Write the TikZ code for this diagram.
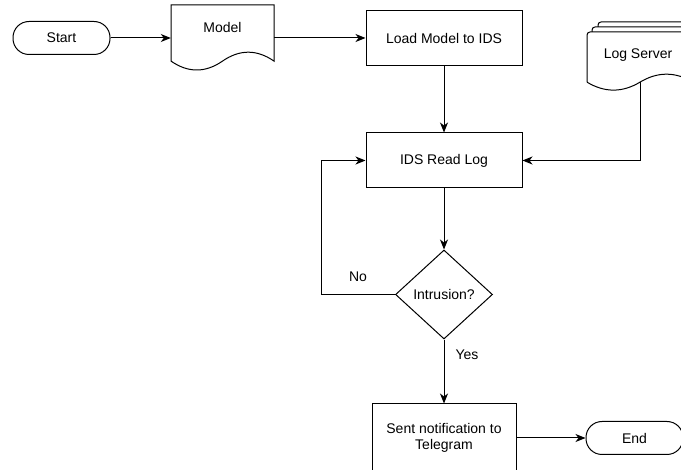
\documentclass[tikz,border=0pt]{standalone}
\usepackage{fontspec}
\setmainfont{Liberation Sans}
\usetikzlibrary{shapes.geometric,arrows.meta,calc}
\begin{document}
\begin{tikzpicture}[x=1pt,y=-1pt,
  every node/.style={font=\fontsize{14}{16}\selectfont, inner sep=0pt},
  line/.style={draw=black, line width=1pt},
  arr/.style={line, -{Stealth[length=10pt,width=8pt,inset=3pt]}},
  proc/.style={line, rectangle, minimum width=156pt, minimum height=55pt},
  term/.style={line, rectangle, rounded corners=16pt, minimum width=97pt, minimum height=33pt},
  shapebox/.style={rectangle, draw=none},
  lbl/.style={}
]
\useasboundingbox (0,0) rectangle (681,470);
\clip (0,0) rectangle (681,470);

% nodes
\node[term] (start) at (61.5,38) {Start};
\node[shapebox, minimum width=103pt, minimum height=66pt] (model) at (222.5,38) {};
\node[lbl] (modeltxt) at (222.5,27) {Model};
\node[proc] (load) at (444,38) {Load Model to IDS};
\node[proc] (read) at (444,160.5) {IDS Read Log};
\node[line, diamond, minimum width=97pt, minimum height=89pt] (dec) at (444,294.5) {Intrusion?};
\node[line, rectangle, minimum width=144pt, minimum height=68pt, align=center] (sent) at (444,438) {Sent notification to\\Telegram};
\node[term] (end) at (634.5,438) {End};
\node[shapebox, minimum width=106pt, minimum height=59pt] (logsrv) at (640,61.5) {};
\node[lbl] (logtxt) at (638,55) {Log Server};
\node[lbl] (no) at (358,277) {No};
\node[lbl] (yes) at (467,355) {Yes};

% document outline (Model)
\draw[line] (171,61.1) -- (171,5) -- (274,5) -- (274,61.1)
  .. controls (256.83,49.23) and (239.67,49.23) .. (222.5,61.1)
  .. controls (205.33,72.97) and (188.17,72.97) .. (171,61.1) -- cycle;

% multi-document outline (Log Server)
\draw[line, rounded corners=3pt] (592,32) -- (592,27) -- (700,27);
\draw[line, rounded corners=3pt] (598,27) -- (598,22) -- (705,22);
\draw[line] (587,82.15) [rounded corners=3pt] -- (587,32) -- (693,32) [sharp corners] -- (693,82.15)
  .. controls (675.33,71.53) and (657.67,71.53) .. (640,82.15)
  .. controls (622.33,92.77) and (604.67,92.77) .. (587,82.15);

% connectors
\coordinate (lsout) at ($(logsrv.north)!0.85!(logsrv.south)$);
\coordinate (loopc) at (321,294.5);
\draw[arr] (start) -- (model);
\draw[arr] (model) -- (load);
\draw[arr] (load) -- (read);
\draw[arr] (read) -- (dec);
\draw[arr] (dec) -- (sent);
\draw[arr] (sent) -- (end);
\draw[arr] (lsout) |- (read.east);
\draw[arr] (dec.west) -- (loopc) |- (read.west);
\end{tikzpicture}
\end{document}
